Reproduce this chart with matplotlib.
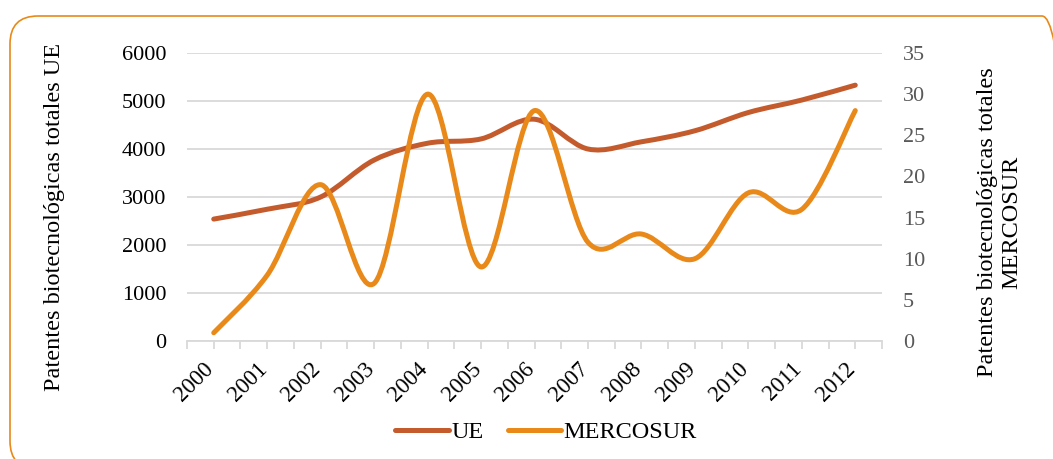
import numpy as np
import matplotlib
matplotlib.use("Agg")
import matplotlib.pyplot as plt
from matplotlib.path import Path
from matplotlib.patches import PathPatch, FancyBboxPatch
from matplotlib.lines import Line2D
from matplotlib.transforms import IdentityTransform, ScaledTranslation

years = ["2000", "2001", "2002", "2003", "2004", "2005", "2006",
         "2007", "2008", "2009", "2010", "2011", "2012"]
ue = [2540, 2745, 3000, 3770, 4120, 4210, 4620, 4000, 4150, 4380, 4760, 5020, 5330]
mercosur = [1, 8, 19, 7, 30, 9, 28, 12, 13, 10, 18, 16, 28]

left_ticks = [0, 1000, 2000, 3000, 4000, 5000, 6000]
right_ticks = [0, 5, 10, 15, 20, 25, 30, 35]

C_UE = "#C45B2D"
C_MER = "#E8891A"
GRID = "#D9D9D9"

plt.rcParams['font.family'] = ['Liberation Serif', 'DejaVu Serif']

fig = plt.figure(figsize=(10.53, 4.59), dpi=100)
W, H = 1053, 459

# rounded border
border = FancyBboxPatch((10, -10), 1060, 453, boxstyle="round,pad=0,rounding_size=28",
                        transform=IdentityTransform(), facecolor="none",
                        edgecolor=C_MER, linewidth=1.2, zorder=0)
fig.patches.append(border)

ax = fig.add_axes([187 / W, 1 - 341 / H, (882 - 187) / W, (341 - 53) / H])
ax2 = ax.twinx()

x = np.arange(len(years))


def smooth_path(xs, ys):
    pts = np.column_stack([xs, ys]).astype(float)
    n = len(pts)
    verts = [pts[0]]
    codes = [Path.MOVETO]
    for i in range(n - 1):
        p0 = pts[i - 1] if i > 0 else pts[i]
        p1 = pts[i]
        p2 = pts[i + 1]
        p3 = pts[i + 2] if i + 2 < n else pts[i + 1]
        c1 = p1 + (p2 - p0) / 6.0
        c2 = p2 - (p3 - p1) / 6.0
        verts += [c1, c2, p2]
        codes += [Path.CURVE4] * 3
    return Path(verts, codes)


ax.set_xlim(-0.5, len(years) - 0.5)
ax.set_ylim(0, 6000)
ax2.set_ylim(0, 35)

ax.add_patch(PathPatch(smooth_path(x, ue), facecolor="none", edgecolor=C_UE,
                       linewidth=3.6, capstyle="round", joinstyle="round",
                       transform=ax.transData, zorder=3))
ax2.add_patch(PathPatch(smooth_path(x, mercosur), facecolor="none", edgecolor=C_MER,
                        linewidth=3.6, capstyle="round", joinstyle="round",
                        transform=ax2.transData, zorder=3))

# grid
ax.set_yticks(left_ticks)
ax.set_yticklabels([str(v) for v in left_ticks], fontsize=16, color="black")
ax.grid(axis="y", color=GRID, linewidth=1.3)
ax.set_axisbelow(True)
ax2.set_yticks(right_ticks)
ax2.set_yticklabels([str(v) for v in right_ticks], fontsize=16, color="#595959")

ax.set_xticks(x)
ax.set_xticklabels(years, rotation=45, ha="right", va="center", rotation_mode="anchor",
                   fontsize=16.5)
ax.set_xticks(np.arange(-0.5, len(years), 1.0), minor=True)
ax.tick_params(axis="x", which="both", length=6, width=1.3, color=GRID, direction="out", pad=12)
ax.tick_params(axis="y", length=0, pad=15)
ax2.tick_params(axis="y", length=0, pad=15)
shift = ScaledTranslation(-3 / 100, 0, fig.dpi_scale_trans)
for lbl in ax.get_xticklabels():
    lbl.set_transform(lbl.get_transform() + shift)

for a in (ax, ax2):
    for s in ("left", "right", "top"):
        a.spines[s].set_visible(False)
    a.spines["bottom"].set_color(GRID)
    a.spines["bottom"].set_linewidth(1.3)
ax2.spines["bottom"].set_visible(False)

fig.text(55 / W, 1 - 217 / H, "Patentes biotecnológicas totales UE", rotation=90,
         ha="center", va="center", fontsize=17.5)
fig.text(1000 / W, 1 - 222 / H, "Patentes biotecnológicas totales\nMERCOSUR", rotation=90,
         ha="center", va="center", fontsize=17.5, linespacing=1.2, multialignment="center")

handles = [Line2D([], [], color=C_UE, linewidth=3.6, solid_capstyle="round"),
           Line2D([], [], color=C_MER, linewidth=3.6, solid_capstyle="round")]
fig.legend(handles, ["UE", "MERCOSUR"], loc="center", bbox_to_anchor=(546 / W, 1 - 432 / H),
           ncol=2, frameon=False, fontsize=17.5, handlelength=2.2, handletextpad=0.1,
           columnspacing=1.0)

fig.savefig("out.png", dpi=100)
